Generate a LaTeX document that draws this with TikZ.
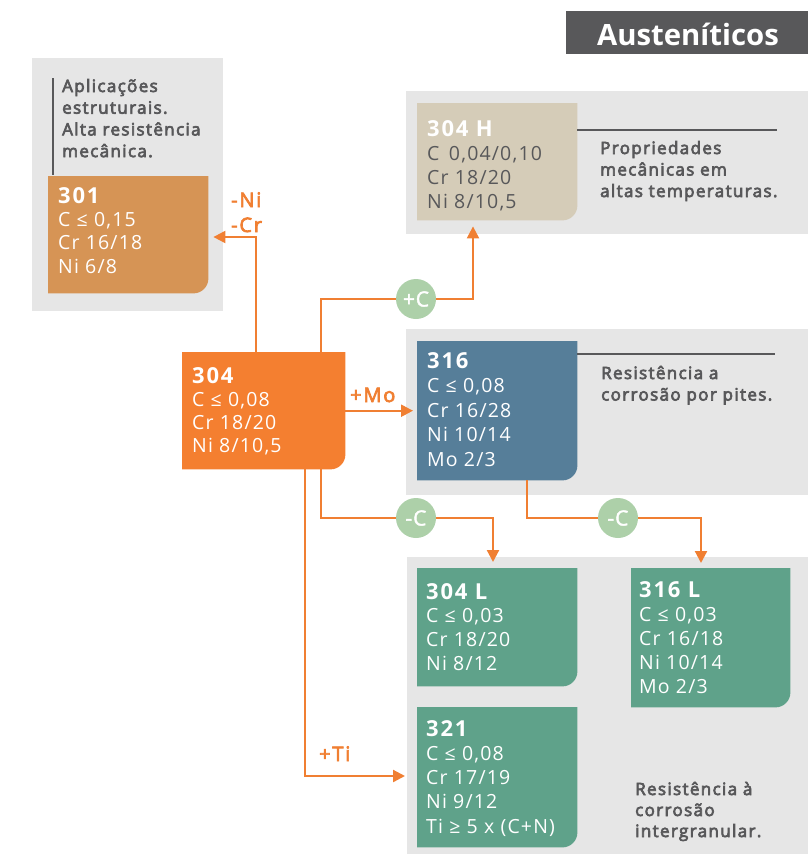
\documentclass[tikz,border=0pt]{standalone}
\usepackage{fontspec}
\setmainfont{Open Sans}
\newfontfamily\specfont{Open Sans}[LetterSpace=6]
\newfontfamily\gradefont{Open Sans}[LetterSpace=8]
\newfontfamily\descfont{Open Sans}[FakeBold=4,LetterSpace=8]
\newfontfamily\labelfont{Open Sans}[FakeBold=3.5,LetterSpace=9]
\newfontfamily\badgefont{Open Sans}[FakeBold=2,LetterSpace=4]
\usetikzlibrary{arrows.meta,calc}

\definecolor{panelgray}{HTML}{E6E6E6}
\definecolor{darkgray}{HTML}{58585A}
\definecolor{linkorange}{HTML}{F07F32}
\definecolor{fill301}{HTML}{D69455}
\definecolor{fill304}{HTML}{F47F30}
\definecolor{fill304h}{HTML}{D5CCB8}
\definecolor{fill316}{HTML}{567E99}
\definecolor{fillgreen}{HTML}{5FA28A}
\definecolor{badgegreen}{HTML}{ADD0A9}

\pgfdeclarelayer{panels}
\pgfdeclarelayer{fills}
\pgfdeclarelayer{links}
\pgfsetlayers{panels,fills,links,main}

\tikzset{
  link/.style={draw=linkorange, line width=2.2pt,
    -{Triangle[length=12pt,width=12pt]}},
  badge/.style={circle, fill=badgegreen, minimum size=40pt, inner sep=0pt,
    text=white, font=\fontsize{21}{24}\badgefont},
  linklabel/.style={text=linkorange, inner sep=0pt, anchor=base west,
    font=\fontsize{20}{22}\labelfont},
  gradetitle/.style={text=white, inner sep=0pt, anchor=base west,
    font=\fontsize{22}{26}\gradefont\bfseries},
  whiteline/.style={text=white, inner sep=0pt, anchor=base west,
    font=\fontsize{19.5}{24}\specfont},
  grayline/.style={text=darkgray, inner sep=0pt, anchor=base west,
    font=\fontsize{19.5}{24}\specfont},
  descline/.style={text=darkgray, inner sep=0pt, anchor=base west,
    font=\fontsize{17}{20}\descfont},
  rule/.style={draw=darkgray, line width=1.6pt},
}

% box with a rounded lower right corner
\newcommand\steelbox[6]{%
  \node[inner sep=0pt, minimum width=#4pt, minimum height=#5pt,
        anchor=north west] (#1) at (#2,#3) {};
  \begin{pgfonlayer}{fills}
    \fill[#6] (#1.north west) -- (#1.north east)
      -- ([yshift=15pt]#1.south east)
      arc[start angle=0, end angle=-90, radius=15pt]
      -- (#1.south west) -- cycle;
  \end{pgfonlayer}}

% grade name followed by its composition lines
\newcommand\grade[7]{%
  \node[gradetitle] (#1-t) at (#2,#3) {#4};
  \foreach \ln [count=\i] in {#7}
    {\node[#5] (#1-\i) at (#2,#3+\i*#6) {\ln};}}

% descriptive text, one node per line
\newcommand\desc[5]{%
  \foreach \ln [count=\i] in {#5}
    {\node[descline] (#1-\i) at (#2,#3+\i*#4-#4) {\ln};}}

\begin{document}
\begin{tikzpicture}[x=1pt, y=-1pt]
\useasboundingbox (0,0) rectangle (808,854);

% grey backgrounds
\begin{pgfonlayer}{panels}
  \fill[panelgray] (32,58) rectangle (223,311);
  \fill[panelgray] (406,91) rectangle (808,234);
  \fill[panelgray] (406,329) rectangle (808,495);
  \fill[panelgray] (407,557) rectangle (808,854);
\end{pgfonlayer}

% heading
\node[fill=darkgray, inner sep=0pt, minimum width=242pt, minimum height=43pt,
      anchor=north west] (title) at (566,11) {};
\node[text=white, inner sep=0pt, anchor=base,
      font=\fontsize{29.3}{32}\selectfont\bfseries] (titletext)
      at (688,45) {Austeníticos};

% grade boxes
\steelbox{b301}{48}{176}{160}{117}{fill301}
\steelbox{b304h}{417}{103}{160}{117}{fill304h}
\steelbox{b304}{182}{352}{163}{117}{fill304}
\steelbox{b316}{417}{341}{160}{139}{fill316}
\steelbox{b304l}{417}{568}{160}{118}{fillgreen}
\steelbox{b316l}{631}{568}{159}{139}{fillgreen}
\steelbox{b321}{417}{707}{160}{140}{fillgreen}

\grade{g301}{58}{203}{301}{whiteline}{23.4}{{C ≤ 0,15},{Cr 16/18},{Ni 6/8}}
\grade{g304h}{427}{136}{304 H}{grayline}{24}{{C\, 0,04/0,10},{Cr 18/20},{Ni 8/10,5}}
\grade{g304}{192}{383}{304}{whiteline}{23.3}{{C ≤ 0,08},{Cr 18/20},{Ni 8/10,5}}
\grade{g316}{427}{368}{316}{whiteline}{24.5}{{C ≤ 0,08},{Cr 16/28},{Ni 10/14},{Mo 2/3}}
\grade{g304l}{426}{599}{304 L}{whiteline}{23.7}{{C ≤ 0,03},{Cr 18/20},{Ni 8/12}}
\grade{g316l}{639}{597}{316 L}{whiteline}{24}{{C ≤ 0,03},{Cr 16/18},{Ni 10/14},{Mo 2/3}}
\grade{g321}{426}{736}{321}{whiteline}{24.3}{{C ≤ 0,08},{Cr 17/19},{Ni 9/12},{Ti ≥ 5 x (C+N)}}

% descriptions and their rules
\draw[rule] ($(b301.north west)+(5,-98)$) -- ($(b301.north west)+(5,-1)$);
\desc{d301}{62}{92}{21.7}{{Aplicações},{estruturais.},{Alta resistência},{mecânica.}}
\draw[rule] ($(b304h.north east)+(0,27)$) -- ($(b304h.north east)+(200,27)$);
\desc{d304h}{600}{154}{21.5}{{Propriedades},{mecânicas em},{altas temperaturas.}}
\draw[rule] ($(b316.north east)+(0,13)$) -- ($(b316.north east)+(198,13)$);
\desc{d316}{601}{379}{21.5}{{Resistência a},{corrosão por pites.}}
\desc{d321}{635}{795}{21}{{Resistência à},{corrosão},{intergranular.}}

% composition changes
\node[badge] (addc) at (416,299) {+C};
\node[badge] (lessc1) at (416,518) {-C};
\node[badge] (lessc2) at (618,518) {-C};

\node[linklabel] (lni) at (231,207) {-Ni};
\node[linklabel] (lcr) at (231,232) {-Cr};
\node[linklabel] (lmo) at (350,402) {+Mo};
\node[linklabel] (lti) at (319,761) {+Ti};

\begin{pgfonlayer}{links}
  \draw[link] ($(b304.north west)+(74,0)$) |- ($(b301.north east)+(5,61)$);
  \draw[link] ($(b304.north west)+(139,0)$) |- (addc) -| ($(b304h.south west)+(56,6)$);
  \draw[link] (b304.east) -- ($(b316.west)+(-4,0)$);
  \draw[link] ($(b304.south west)+(139,0)$) |- (lessc1) -| ($(b304l.north west)+(76,-6)$);
  \draw[link] ($(b304.south west)+(123,0)$) |- ($(b321.north west)+(-12,69)$);
  \draw[link] ($(b316.south west)+(110,0)$) |- (lessc2) -| ($(b316l.north west)+(70,-5)$);
\end{pgfonlayer}
\end{tikzpicture}
\end{document}
